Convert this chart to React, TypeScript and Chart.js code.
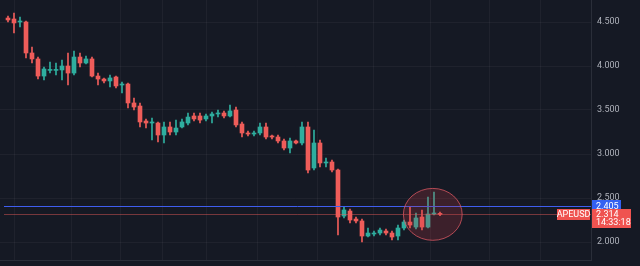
import React, { useEffect, useRef } from "react";
import { Chart, registerables } from "chart.js";

Chart.register(...registerables);

// OHLC candles (APEUSD)
const opens = [4.545, 4.534, 4.5, 4.5, 4.148, 4.08, 3.886, 3.95, 3.95, 3.955, 4.0, 3.92, 4.102, 4.034, 4.08, 3.886, 3.852, 3.83, 3.875, 3.784, 3.795, 3.58, 3.545, 3.375, 3.352, 3.352, 3.216, 3.307, 3.25, 3.307, 3.352, 3.432, 3.432, 3.398, 3.432, 3.455, 3.466, 3.432, 3.5, 3.341, 3.239, 3.227, 3.239, 3.307, 3.205, 3.193, 3.148, 3.068, 3.148, 3.125, 3.307, 2.841, 3.125, 2.898, 2.909, 2.818, 2.295, 2.352, 2.261, 2.239, 2.068, 2.091, 2.102, 2.125, 2.102, 2.068, 2.159, 2.227, 2.17, 2.284, 2.17, 2.318, 2.322];
const highs = [4.568, 4.602, 4.557, 4.511, 4.216, 4.102, 3.989, 4.045, 4.034, 4.068, 4.148, 4.17, 4.148, 4.114, 4.102, 3.92, 3.864, 3.898, 3.886, 3.818, 3.807, 3.636, 3.58, 3.398, 3.409, 3.364, 3.364, 3.364, 3.386, 3.398, 3.466, 3.466, 3.466, 3.455, 3.477, 3.5, 3.489, 3.557, 3.534, 3.364, 3.261, 3.261, 3.352, 3.352, 3.216, 3.216, 3.17, 3.182, 3.159, 3.364, 3.364, 3.273, 3.159, 2.955, 2.932, 2.83, 2.398, 2.375, 2.284, 2.261, 2.159, 2.125, 2.159, 2.148, 2.125, 2.193, 2.25, 2.398, 2.33, 2.364, 2.511, 2.568, 2.34];
const lows = [4.5, 4.375, 4.443, 4.091, 4.034, 3.852, 3.841, 3.92, 3.898, 3.841, 3.784, 3.898, 3.989, 4.023, 3.875, 3.784, 3.807, 3.761, 3.75, 3.693, 3.523, 3.5, 3.307, 3.295, 3.159, 3.136, 3.125, 3.216, 3.216, 3.295, 3.33, 3.375, 3.352, 3.375, 3.352, 3.42, 3.409, 3.42, 3.307, 3.193, 3.205, 3.205, 3.216, 3.17, 3.17, 3.125, 3.045, 3.011, 3.114, 3.102, 2.784, 2.818, 2.852, 2.852, 2.795, 2.08, 2.273, 2.216, 2.216, 2.0, 2.057, 2.068, 2.08, 2.08, 2.023, 2.023, 2.136, 2.159, 2.148, 2.136, 2.159, 2.307, 2.3];
const closes = [4.523, 4.489, 4.511, 4.148, 4.08, 3.886, 3.966, 3.955, 3.958, 4.0, 3.92, 4.102, 4.034, 4.08, 3.886, 3.852, 3.83, 3.864, 3.773, 3.795, 3.58, 3.534, 3.364, 3.352, 3.364, 3.216, 3.307, 3.25, 3.295, 3.364, 3.42, 3.398, 3.386, 3.432, 3.455, 3.466, 3.432, 3.489, 3.33, 3.239, 3.227, 3.239, 3.307, 3.193, 3.193, 3.148, 3.068, 3.148, 3.125, 3.307, 2.818, 3.125, 2.898, 2.909, 2.818, 2.284, 2.364, 2.25, 2.239, 2.068, 2.102, 2.102, 2.136, 2.102, 2.057, 2.159, 2.227, 2.193, 2.273, 2.17, 2.318, 2.33, 2.314];

const priceTicks = [2.0, 2.5, 3.0, 3.5, 4.0, 4.5];
const timeGrid = [5.8, 15.3, 22.2, 29.2, 37, 46.2, 57, 64.8, 76, 84.5];

const symbol = "APEUSD";
const lastPrice = 2.314;
const countdown = "14:33:18";
const levelPrice = 2.405;
const highlightIndex = 70.8;

const UP = "#2fae9f";
const DOWN = "#ef5d5a";
const BG = "#151924";

const overlayPlugin = {
  id: "overlay",
  beforeDraw(chart: any) {
    const { ctx, width, height } = chart;
    ctx.save();
    ctx.fillStyle = BG;
    ctx.fillRect(0, 0, width, height);
    ctx.restore();
  },
  afterDatasetsDraw(chart: any) {
    const { ctx, chartArea } = chart;
    const xs = chart.scales.x;
    const ys = chart.scales.y;
    ctx.save();
    // last price line
    const yLast = Math.round(ys.getPixelForValue(lastPrice)) + 0.5;
    ctx.strokeStyle = "rgba(239,93,90,0.45)";
    ctx.lineWidth = 1;
    ctx.beginPath();
    ctx.moveTo(chartArea.left + 4, yLast);
    ctx.lineTo(chartArea.right, yLast);
    ctx.stroke();
    // level line
    const yLvl = Math.round(ys.getPixelForValue(levelPrice)) + 0.5;
    ctx.strokeStyle = "#3f5ef0";
    ctx.beginPath();
    ctx.moveTo(chartArea.left + 4, yLvl);
    ctx.lineTo(chartArea.right, yLvl);
    ctx.stroke();
    // highlight ellipse
    const cx = xs.getPixelForValue(highlightIndex);
    const cy = ys.getPixelForValue(lastPrice);
    const rx = xs.getPixelForValue(highlightIndex + 4.9) - cx;
    const ry = ys.getPixelForValue(lastPrice - 0.295) - cy;
    ctx.beginPath();
    ctx.ellipse(cx, cy, Math.abs(rx), Math.abs(ry), 0, 0, Math.PI * 2);
    ctx.fillStyle = "rgba(200,60,70,0.22)";
    ctx.fill();
    ctx.strokeStyle = "rgba(225,90,100,0.75)";
    ctx.lineWidth = 1;
    ctx.stroke();

    // labels
    ctx.font = "9px Roboto, 'DejaVu Sans', sans-serif";
    ctx.textBaseline = "middle";
    const axisX = chartArea.right + 1;
    // blue level label
    ctx.fillStyle = "#3461f2";
    ctx.fillRect(axisX, yLvl - 6.5, 29, 13);
    ctx.fillStyle = "#ffffff";
    ctx.textAlign = "left";
    ctx.fillText(levelPrice.toFixed(3), axisX + 4, yLvl);
    // red price label
    ctx.fillStyle = "#ef5350";
    ctx.fillRect(axisX, yLast - 5.5, 39, 19);
    ctx.fillStyle = "#ffffff";
    ctx.fillText(lastPrice.toFixed(3), axisX + 4, yLast);
    ctx.fillText(countdown, axisX + 4, yLast + 8);
    // symbol label
    ctx.fillStyle = "#ef5350";
    ctx.fillRect(axisX - 35, yLast - 5.5, 33, 11);
    ctx.fillStyle = "#ffffff";
    ctx.textAlign = "center";
    ctx.fillText(symbol, axisX - 18.5, yLast + 0.5);
    ctx.restore();
  },
};

export default function App() {
  const ref = useRef<HTMLCanvasElement>(null);
  useEffect(() => {
    document.body.style.margin = "0";
    const canvas = ref.current;
    if (!canvas) return;
    const colors = opens.map((o, i) => (closes[i] >= o ? UP : DOWN));
    const wickData = opens.map((_, i) => ({ x: i, y: [lows[i], highs[i]] }));
    const bodyData = opens.map((o, i) => ({
      x: i,
      y: [Math.min(o, closes[i]), Math.max(o, closes[i])],
    }));
    const chart = new Chart(canvas, {
      type: "bar",
      data: {
        datasets: [
          {
            label: "wick",
            data: wickData as any,
            backgroundColor: colors,
            barThickness: 1,
            grouped: false,
            minBarLength: 1,
          } as any,
          {
            label: "body",
            data: bodyData as any,
            backgroundColor: colors,
            barThickness: 4,
            grouped: false,
            minBarLength: 1,
          } as any,
        ],
      },
      plugins: [overlayPlugin],
      options: {
        responsive: false,
        animation: false,
        layout: { padding: { bottom: 6, left: 0, right: 0, top: 0 } },
        plugins: { legend: { display: false }, tooltip: { enabled: false } },
        scales: {
          x: {
            type: "linear",
            min: -1.333,
            max: 97.17,
            offset: false,
            ticks: { display: false },
            afterBuildTicks: (s: any) => {
              s.ticks = timeGrid.map((v) => ({ value: v }));
            },
            afterFit: (s: any) => {
              s.height = 0;
              s.paddingLeft = 0;
              s.paddingRight = 0;
            },
            grid: { color: "rgba(255,255,255,0.045)", drawTicks: false },
            border: { display: true, color: "#2a2e39" },
          },
          y: {
            position: "right",
            min: 4.75 - 260 / 88,
            max: 4.75,
            afterBuildTicks: (s: any) => {
              s.ticks = priceTicks.map((v) => ({ value: v }));
            },
            afterFit: (s: any) => {
              s.width = 49;
              s.paddingTop = 0;
              s.paddingBottom = 0;
            },
            ticks: {
              color: "#aeb1ba",
              padding: 6,
              font: { size: 9, family: "Roboto, 'DejaVu Sans', sans-serif" },
              callback: (v: any) => Number(v).toFixed(3),
            },
            grid: { color: "rgba(255,255,255,0.045)", drawTicks: false },
            border: { display: true, color: "#2a2e39" },
          },
        },
      },
    });
    return () => chart.destroy();
  }, []);
  return (
    <div style={{ width: 640, height: 266, background: BG }}>
      <canvas ref={ref} width={640} height={266} style={{ display: "block" }} />
    </div>
  );
}
